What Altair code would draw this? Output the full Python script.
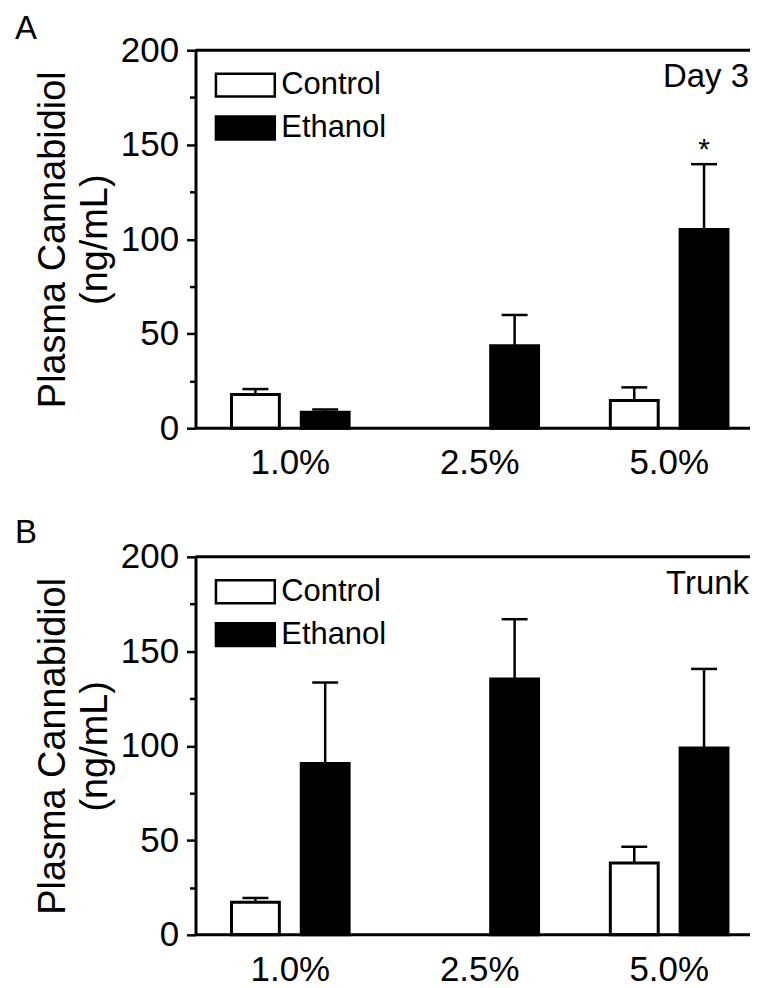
import altair as alt
import pandas as pd

FONT = "Liberation Sans"

CONCS = ["1.0%", "2.5%", "5.0%"]
GROUPS = ["Control", "Ethanol"]

# bars present (Control 2.5% missing in both panels)
ROW_CONC = ["1.0%", "1.0%", "2.5%", "5.0%", "5.0%"]
ROW_GROUP = ["Control", "Ethanol", "Ethanol", "Control", "Ethanol"]

# Panel A - Day 3
A_MEAN = [17.8, 8.4, 43.6, 14.6, 105.1]
A_UPPER = [20.7, 9.9, 59.9, 21.6, 139.7]
A_SIG = ["", "", "", "", "*"]

# Panel B - Trunk
B_MEAN = [17.2, 90.7, 135.3, 38.0, 98.9]
B_UPPER = [19.5, 133.5, 167.0, 46.6, 140.7]
B_SIG = ["", "", "", "", ""]

Y_TICKS = [0, 25, 50, 75, 100, 125, 150, 175, 200]
FRAME = [0, 200]

W = 556
H = 379


def panel(mean, upper, sig, tag, letter, letter_y):
    df = pd.DataFrame({"conc": ROW_CONC, "group": ROW_GROUP,
                       "mean": mean, "upper": upper, "sig": sig})
    xscale = alt.Scale(domain=CONCS, range=[0, 570], paddingInner=0.379, paddingOuter=0.19)
    x = alt.X("conc:N", sort=CONCS, scale=xscale, axis=None)
    xo = alt.XOffset("group:N", sort=GROUPS,
                     scale=alt.Scale(domain=GROUPS, paddingInner=0.314, paddingOuter=0))
    yaxis = alt.Axis(title=["Plasma Cannabidiol", "(ng/mL)"], values=Y_TICKS,
                     labelExpr="datum.value % 50 === 0 ? datum.label : ''",
                     tickSize={"condition": {"test": "datum.value % 50 === 0", "value": 9}, "value": 6},
                     labelFontSize=35, labelPadding=8, labelFont=FONT,
                     titleFontSize=38, titleFontWeight="normal", titleFont=FONT,
                     titleLineHeight=42, titlePadding=6)
    yscale = alt.Scale(domain=[0, 200], nice=False)
    base = alt.Chart(df)
    frame = alt.Chart(pd.DataFrame({"v": FRAME})).mark_rule(color="black", strokeWidth=3).encode(
        y=alt.Y("v:Q", scale=yscale, axis=yaxis), x=alt.value(0), x2=alt.value(W))
    bars = base.mark_bar(stroke="black", strokeWidth=3, strokeJoin="miter").encode(
        x=x, xOffset=xo,
        y=alt.Y("mean:Q", scale=yscale, axis=yaxis),
        fill=alt.Fill("group:N", sort=GROUPS,
                      scale=alt.Scale(domain=GROUPS, range=["white", "black"]),
                      legend=alt.Legend(title=None, orient="none", legendX=29, legendY=14,
                                        symbolType="M-1.5,-0.585H1.5V0.585H-1.5Z", symbolSize=1547,
                                        symbolStrokeColor="black", symbolStrokeWidth=2.5,
                                        labelFontSize=31, labelFont=FONT, labelColor="black",
                                        rowPadding=5, labelOffset=15)),
    )
    err = base.mark_rule(color="black", strokeWidth=2.5).encode(
        x=x, xOffset=xo,
        y=alt.Y("mean:Q", scale=yscale, axis=yaxis), y2="upper:Q")
    cap = base.mark_tick(color="black", thickness=2.5, size=26, opacity=1).encode(
        x=x, xOffset=xo, y=alt.Y("upper:Q", scale=yscale, axis=yaxis))
    star = base.mark_text(fontSize=30, font=FONT, baseline="alphabetic", dy=-5, color="black").encode(
        x=x, xOffset=xo, y=alt.Y("upper:Q", scale=yscale, axis=yaxis), text="sig:N")
    # category labels under the axis, placed by the x scale
    xlab = alt.Chart(pd.DataFrame({"conc": CONCS})).mark_text(
        fontSize=35, font=FONT, baseline="top", align="center", color="black").encode(
        x=x, y=alt.value(H + 18), text="conc:N")
    lab = alt.Chart(pd.DataFrame({"t": [letter]})).mark_text(
        fontSize=33, font=FONT, align="left", baseline="alphabetic", color="black").encode(
        x=alt.value(-181), y=alt.value(letter_y), text="t:N")
    tagt = alt.Chart(pd.DataFrame({"t": [tag]})).mark_text(
        fontSize=33, font=FONT, align="right", baseline="alphabetic", color="black").encode(
        x=alt.value(W - 1), y=alt.value(37), text="t:N")
    layer = alt.layer(bars, err, cap, star, frame, xlab, lab, tagt).properties(width=W, height=H)
    return layer


pa = panel(A_MEAN, A_UPPER, A_SIG, "Day 3", "A", -11)
pb = panel(B_MEAN, B_UPPER, B_SIG, "Trunk", "B", -14)

chart = alt.vconcat(pa, pb, spacing=36, padding={"left": 7, "top": 4, "right": 0, "bottom": 0}
                    ).resolve_scale(fill="independent").resolve_legend(fill="independent"
                    ).configure_axis(domainColor="black", domainWidth=3, tickColor="black",
                                     tickWidth=2.5, labelColor="black", titleColor="black",
                                     grid=False
                    ).configure_view(strokeWidth=0
                    ).configure_concat(spacing=0)

chart.save("out.html", embed_options={"renderer": "svg", "actions": False})
